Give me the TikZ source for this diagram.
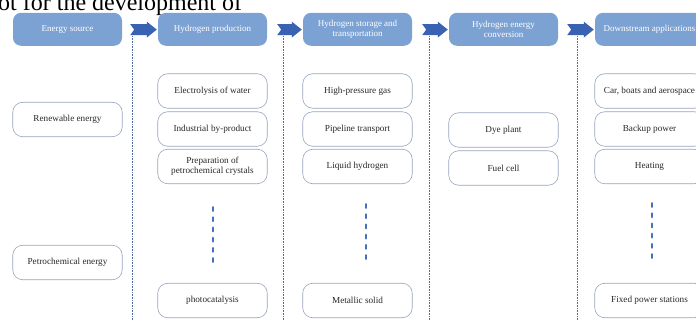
\documentclass[tikz,border=0pt]{standalone}
\usepackage{fontspec}
\setmainfont{Liberation Serif}
\usetikzlibrary{calc}
\definecolor{hdrblue}{RGB}{124,162,212}
\definecolor{arrblue}{RGB}{58,98,178}
\definecolor{dotblue}{RGB}{80,110,165}
\definecolor{itemedge}{RGB}{150,165,192}
\definecolor{dashblue}{RGB}{68,110,190}
\definecolor{itemtext}{RGB}{40,40,40}
\begin{document}
\begin{tikzpicture}[x=1pt,y=-1pt,
  hdr/.style={fill=hdrblue, rounded corners=8pt, minimum width=109pt, minimum height=33pt,
    text=white, font=\fontsize{9}{10}\selectfont, align=center, inner sep=0pt},
  item/.style={draw=itemedge, line width=0.6pt, fill=white, rounded corners=10pt,
    minimum width=109.5pt, minimum height=34.5pt, font=\fontsize{9.2}{10.5}\selectfont,
    text=itemtext, align=center, inner sep=0pt},
  chev/.style={fill=arrblue},
  vdot/.style={dotblue, line width=0.7pt, dash pattern=on 0.7pt off 0.9pt},
  vdash/.style={dashblue, line width=2.6pt, line cap=round, dash pattern=on 3.5pt off 6.7pt}]
\useasboundingbox (0,0) rectangle (696,320);
\clip (0,0) rectangle (696,320);

% clipped line of text at top
\node[anchor=base west, font=\fontsize{24}{24}\selectfont, inner sep=0pt] (title) at (-2,11) {ot for the development of};

% headers
\node[hdr] (h1) at (67.5,29.3) {Energy source};
\node[hdr] (h2) at (212.5,29.3) {Hydrogen production};
\node[hdr] (h3) at (357.5,29.3) {Hydrogen storage and\\transportation};
\node[hdr] (h4) at (503.5,29.3) {Hydrogen energy\\conversion};
\node[hdr] (h5) at (649.5,29.3) {Downstream applications};

% chevron arrows between headers
\foreach \a/\b/\g in {h1/h2/8, h2/h3/10, h3/h4/10, h4/h5/9}{
  \coordinate (T) at ($(\a.east)+(\g,0.3)$);
  \coordinate (P) at ($(\b.west)+(-1,0.3)$);
  \fill[chev] ($(T)+(0,-5.5)$) -- ($(P)+(-10,-5.5)$) -- ($(P)+(-10,-8)$) -- (P)
    -- ($(P)+(-10,8)$) -- ($(P)+(-10,5.5)$) -- ($(T)+(0,5.5)$) -- ($(T)+(4,0)$) -- cycle;
}

% dotted column separators
\foreach \i/\x in {1/132, 2/283, 3/429, 4/577}{
  \coordinate (dt\i) at (\x,36);
  \coordinate (db\i) at (\x,320);
  \draw[vdot] (dt\i) -- (db\i);
}

% column 1
\node[item] (r1) at (67.5,119.5) {Renewable energy};
\node[item] (r2) at (67.5,262.5) {Petrochemical energy};

% column 2
\node[item] (p1) at (212.5,91) {Electrolysis of water};
\node[item] (p2) at (212.5,129) {Industrial by-product};
\node[item] (p3) at (212.5,166.5) {Preparation of\\petrochemical crystals};
\node[item] (p4) at (212.5,300.5) {photocatalysis};

% column 3
\node[item] (s1) at (357.5,91) {High-pressure gas};
\node[item] (s2) at (357.5,129) {Pipeline transport};
\node[item] (s3) at (357.5,166.5) {Liquid hydrogen};
\node[item] (s4) at (357.5,300.5) {Metallic solid};

% column 4
\node[item] (c1) at (503.5,130) {Dye plant};
\node[item] (c2) at (503.5,168) {Fuel cell};

% column 5
\node[item] (a1) at (649.5,91) {Car, boats and aerospace};
\node[item] (a2) at (649.5,129) {Backup power};
\node[item] (a3) at (649.5,166.5) {Heating};
\node[item] (a4) at (649.5,300.5) {Fixed power stations};

% vertical ellipsis dashes
\coordinate (e2t) at (213,207.3); \coordinate (e2b) at (213,261.8);
\coordinate (e3t) at (366,204.3); \coordinate (e3b) at (366,258.8);
\coordinate (e5t) at (652,203.3); \coordinate (e5b) at (652,257.8);
\draw[vdash] (e2t) -- (e2b);
\draw[vdash] (e3t) -- (e3b);
\draw[vdash] (e5t) -- (e5b);
\end{tikzpicture}
\end{document}
